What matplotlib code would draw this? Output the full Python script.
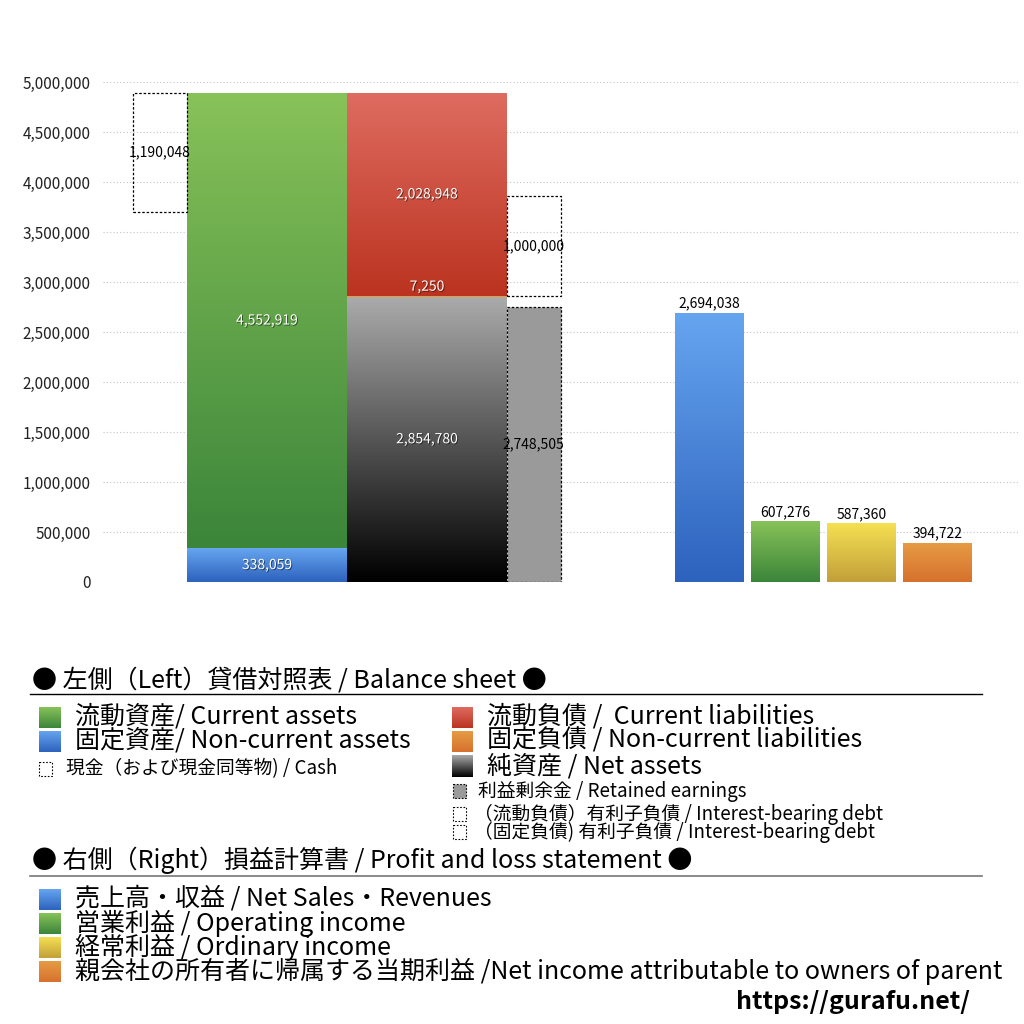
import numpy as np
import matplotlib
matplotlib.use('Agg')
import matplotlib.pyplot as plt
import matplotlib.patheffects as pe
from matplotlib.patches import Rectangle

plt.rcParams['font.family'] = ['Noto Sans CJK JP', 'DejaVu Sans']

# --- balance sheet (left side) ---
current_assets = 4552919
noncurrent_assets = 338059
cash = 1190048
current_liabilities = 2028948
noncurrent_liabilities = 7250
net_assets = 2854780
retained_earnings = 2748505
debt_current = 1000000
debt_noncurrent = 0

# --- profit and loss (right side) ---
pl_names = ['売上高・収益', '営業利益', '経常利益', '当期利益']
pl_values = [2694038, 607276, 587360, 394722]

yticks = np.arange(0, 5000001, 500000)

# gradient colours (top, bottom)
c_green = ('#88c259', '#3b853a')
c_blue = ('#66a5f0', '#2d62bd')
c_red = ('#de6c60', '#bb3320')
c_black = ('#ababab', '#000000')
c_yellow = ('#f5e052', '#c29f3a')
c_orange = ('#e69c44', '#d6712d')
pl_colors = [c_blue, c_green, c_yellow, c_orange]

# layout (x in pixel-like axis units)
cash_x, side_w = 160, 54
asset_x, liab_x, main_w = 267, 427, 160
side_x = 533.5
pl_x = [709.5, 785.5, 861.5, 937.5]
pl_w = 69


def grad(top, bottom, n=256):
    t = np.array(matplotlib.colors.to_rgb(top))
    b = np.array(matplotlib.colors.to_rgb(bottom))
    f = np.linspace(0, 1, n)[:, None]
    return (t * (1 - f) + b * f)[:, None, :]


def gbar(ax, x, w, bottom, h, cols):
    p = ax.bar(x, h, w, bottom=bottom, color='none', linewidth=0, zorder=2)[0]
    im = ax.imshow(grad(*cols), extent=(x - w / 2, x + w / 2, bottom, bottom + h),
                   aspect='auto', origin='upper', zorder=2, interpolation='bilinear')
    im.set_clip_path(p)
    return p


shadow = [pe.withSimplePatchShadow(offset=(0.7, -0.7), shadow_rgbFace='black', alpha=0.5)]
fmt = lambda v: f'{v:,}'
vfs = 10

fig = plt.figure(figsize=(10.24, 10.24), dpi=100)
ax = fig.add_axes([103 / 1024, (1024 - 582) / 1024, (1020 - 103) / 1024, 500 / 1024])

for y in yticks:
    ax.axhline(y, color='#c4c4c4', lw=0.8, ls=(0, (1, 2)), zorder=0)

total = current_assets + noncurrent_assets

# assets
gbar(ax, asset_x, main_w, 0, noncurrent_assets, c_blue)
gbar(ax, asset_x, main_w, noncurrent_assets, current_assets, c_green)
ax.text(asset_x, noncurrent_assets / 2, fmt(noncurrent_assets), color='white', ha='center',
        va='center', fontsize=vfs, path_effects=shadow, zorder=5)
ax.text(asset_x, noncurrent_assets + current_assets / 2, fmt(current_assets), color='white',
        ha='center', va='center', fontsize=vfs, path_effects=shadow, zorder=5)

# cash box
ax.bar(cash_x, cash, side_w, bottom=total - cash, fill=False, edgecolor='black',
       linestyle=(0, (2, 1.5)), linewidth=0.9, zorder=3)
ax.text(cash_x, total - cash / 2, fmt(cash), ha='center', va='center', fontsize=vfs, zorder=5)

# liabilities + net assets
gbar(ax, liab_x, main_w, 0, net_assets, c_black)
ax.bar(liab_x, noncurrent_liabilities, main_w, bottom=net_assets, color=c_orange[0],
       linewidth=0, zorder=2)
cl_bottom = net_assets + noncurrent_liabilities
gbar(ax, liab_x, main_w, cl_bottom, current_liabilities, c_red)
ax.text(liab_x, net_assets / 2, fmt(net_assets), color='white', ha='center', va='center',
        fontsize=vfs, path_effects=shadow, zorder=5)
ax.annotate(fmt(noncurrent_liabilities), (liab_x, cl_bottom), xytext=(0, 1.5),
            textcoords='offset points', color='white', ha='center', va='bottom', fontsize=vfs,
            path_effects=shadow, zorder=5)
ax.text(liab_x, cl_bottom + current_liabilities / 2, fmt(current_liabilities), color='white',
        ha='center', va='center', fontsize=vfs, path_effects=shadow, zorder=5)

# retained earnings + interest-bearing debt
ax.bar(side_x, retained_earnings, side_w, color='#9a9a9a', edgecolor='black',
       linestyle=(0, (2, 1.5)), linewidth=0.9, zorder=3)
ax.text(side_x, retained_earnings / 2, fmt(retained_earnings), ha='center', va='center',
        fontsize=vfs, zorder=5)
ax.bar(side_x, debt_current, side_w, bottom=cl_bottom, fill=False, edgecolor='black',
       linestyle=(0, (2, 1.5)), linewidth=0.9, zorder=3)
ax.text(side_x, cl_bottom + debt_current / 2, fmt(debt_current), ha='center', va='center',
        fontsize=vfs, zorder=5)

# profit and loss bars
for x, v, cols in zip(pl_x, pl_values, pl_colors):
    gbar(ax, x, pl_w, 0, v, cols)
    ax.annotate(fmt(v), (x, v), xytext=(0, 1.5), textcoords='offset points', ha='center',
                va='bottom', fontsize=vfs, zorder=5)

ax.set_xlim(103, 1020)
ax.set_ylim(0, 5000000)
ax.set_yticks(yticks)
ax.set_yticklabels([fmt(v) for v in yticks], fontsize=11, color='#222222')
ax.tick_params(axis='y', length=0, pad=9)
ax.set_xticks([])
for s in ax.spines.values():
    s.set_visible(False)

# --- legend area drawn in pixel coordinates ---
lax = fig.add_axes([0, 0, 1, 1])
lax.set_xlim(0, 1024)
lax.set_ylim(1024, 0)
lax.axis('off')
lax.patch.set_visible(False)


def swatch(x, y, w, h, cols):
    lax.imshow(grad(*cols), extent=(x, x + w, y + h, y), aspect='auto', origin='upper',
               interpolation='bilinear')


def dbox(x, y, w, h, face='none'):
    lax.add_patch(Rectangle((x, y), w, h, facecolor=face, edgecolor='black',
                            linestyle=(0, (1.5, 1.5)), linewidth=0.8))


big = 18
small = 13.5

lax.text(32, 680, '● 左側（Left）貸借対照表 / Balance sheet ●', fontsize=big, va='center')
lax.plot([30, 982], [694, 694], color='black', lw=1)

swatch(39, 707, 22, 21, c_green)
lax.text(75, 717, '流動資産/ Current assets', fontsize=big, va='center')
swatch(39, 731, 22, 21, c_blue)
lax.text(75, 741, '固定資産/ Non-current assets', fontsize=big, va='center')
dbox(39, 762, 13, 14)
lax.text(66, 769, '現金（および現金同等物) / Cash', fontsize=small, va='center')

swatch(452, 707, 21, 21, c_red)
lax.text(487, 717, '流動負債 /  Current liabilities', fontsize=big, va='center')
swatch(452, 731, 21, 21, c_orange)
lax.text(487, 741, '固定負債 / Non-current liabilities', fontsize=big, va='center')
swatch(452, 755, 21, 22, c_black)
lax.text(487, 766, '純資産 / Net assets', fontsize=big, va='center')
dbox(453, 784, 13, 14, face='#9a9a9a')
lax.text(478, 791, '利益剰余金 / Retained earnings', fontsize=small, va='center')
dbox(453, 807, 13, 14)
lax.text(474, 814, '（流動負債）有利子負債 / Interest-bearing debt', fontsize=small, va='center')
dbox(453, 825, 13, 14)
lax.text(474, 832, '（固定負債) 有利子負債 / Interest-bearing debt', fontsize=small, va='center')

lax.text(32, 860, '● 右側（Right）損益計算書 / Profit and loss statement ●', fontsize=big,
         va='center')
lax.plot([30, 982], [876, 876], color='#777777', lw=1.2)

pl_legend = ['売上高・収益 / Net Sales・Revenues',
             '営業利益 / Operating income',
             '経常利益 / Ordinary income',
             '親会社の所有者に帰属する当期利益 /Net income attributable to owners of parent']
for i, (lab, cols) in enumerate(zip(pl_legend, pl_colors)):
    swatch(39, 889 + 24 * i, 22, 21, cols)
    lax.text(75, 899 + 24 * i, lab, fontsize=big, va='center')

lax.text(970, 1002, 'https://gurafu.net/', fontsize=18, fontweight='bold', ha='right',
         va='center')

fig.savefig('out.png', dpi=100)
